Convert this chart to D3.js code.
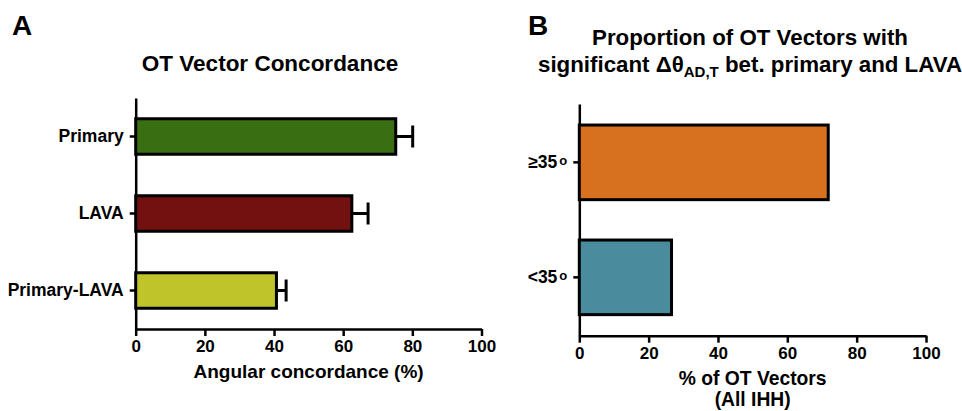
<!DOCTYPE html>
<html>
<head>
<meta charset="utf-8">
<script src="https://cdn.jsdelivr.net/npm/d3@7"></script>
<style>
  body { margin: 0; background: #fff; }
  svg { display: block; font-family: "Liberation Sans", Arial, sans-serif; font-weight: bold; }
  .axis path, .axis line { stroke: #000; stroke-width: 2.5; }
  .axis text { font-size: 17px; font-weight: bold; fill: #000; font-family: "Liberation Sans", Arial, sans-serif; }
  .ylab text { font-size: 17.5px; }
</style>
</head>
<body>
<svg id="chart" width="962" height="411"></svg>
<script>
'use strict';

// panel A: OT vector concordance
let concCats = ['Primary', 'LAVA', 'Primary-LAVA'];
let concValues = [75.2, 62.5, 40.7];
let concErrors = [4.9, 4.7, 2.8];
let concColors = ['#3a6e12', '#731111', '#bec42a'];

// panel B: proportion of OT vectors
let propCats = ['≥35', '<35'];
let propValues = [71.8, 26.6];
let propColors = ['#d8711f', '#4a8c9e'];

let xTicks = [0, 20, 40, 60, 80, 100];

let svg = d3.select('#chart');

let drawPanel = (opts) => {
  let g = svg.append('g');
  let x = d3.scaleLinear().domain([0, 100]).range([opts.x0, opts.x1]);
  let y = d3.scaleBand()
    .domain(opts.cats)
    .range([opts.y0, opts.y1])
    .paddingInner(opts.padIn)
    .paddingOuter(opts.padOut);

  g.append('g')
    .attr('class', 'axis')
    .attr('transform', `translate(0,${opts.y1})`)
    .call(d3.axisBottom(x).tickValues(xTicks).tickFormat(d3.format('d'))
      .tickSize(7).tickSizeOuter(0).tickPadding(4));

  let yAxis = g.append('g')
    .attr('class', 'axis ylab')
    .attr('transform', `translate(${opts.x0},0)`)
    .call(d3.axisLeft(y).tickSize(6).tickSizeOuter(0).tickPadding(6)
      .tickFormat(opts.labelFormat ? () => '' : d => d));
  if (opts.labelFormat) {
    yAxis.selectAll('.tick text').each(function(d) {
      let t = d3.select(this);
      t.append('tspan').text(d);
      t.append('tspan').attr('font-size', 13).attr('dy', -3).attr('dx', 2).text('o');
    });
  }

  g.selectAll('rect.bar')
    .data(opts.values)
    .join('rect')
    .attr('class', 'bar')
    .attr('x', x(0))
    .attr('y', (d, i) => y(opts.cats[i]) + 1.5)
    .attr('width', d => x(d) - x(0))
    .attr('height', y.bandwidth() - 3)
    .style('fill', (d, i) => opts.colors[i])
    .style('stroke', '#000')
    .style('stroke-width', 3);

  if (opts.errors) {
    let eg = g.selectAll('g.err')
      .data(opts.values)
      .join('g')
      .attr('class', 'err')
      .style('stroke', '#000')
      .style('stroke-width', 3);
    eg.append('line')
      .attr('x1', d => x(d))
      .attr('x2', (d, i) => x(d + opts.errors[i]))
      .attr('y1', (d, i) => y(opts.cats[i]) + y.bandwidth() / 2)
      .attr('y2', (d, i) => y(opts.cats[i]) + y.bandwidth() / 2);
    eg.append('line')
      .attr('x1', (d, i) => x(d + opts.errors[i]))
      .attr('x2', (d, i) => x(d + opts.errors[i]))
      .attr('y1', (d, i) => y(opts.cats[i]) + y.bandwidth() / 2 - 11)
      .attr('y2', (d, i) => y(opts.cats[i]) + y.bandwidth() / 2 + 11);
  }
  return { g: g, x: x, y: y };
};

let pa = drawPanel({
  cats: concCats, values: concValues, errors: concErrors, colors: concColors,
  x0: 135.7, x1: 481.5, y0: 98, y1: 329, padIn: 0.5, padOut: 0.25,
});

let pb = drawPanel({
  cats: propCats, values: propValues, colors: propColors,
  x0: 579.3, x1: 926, y0: 104, y1: 335.7, padIn: 0.325, padOut: 0.17,
  labelFormat: true,
});

// panel letters
svg.append('text').attr('x', 12).attr('y', 35).style('font-size', '28px').text('A');
svg.append('text').attr('x', 528).attr('y', 35).style('font-size', '28px').text('B');

// titles
svg.append('text')
  .attr('x', 270).attr('y', 71)
  .style('text-anchor', 'middle')
  .style('font-size', '22.5px')
  .text('OT Vector Concordance');

svg.append('text')
  .attr('x', 750).attr('y', 45)
  .style('text-anchor', 'middle')
  .style('font-size', '22.3px')
  .text('Proportion of OT Vectors with');
let t2 = svg.append('text')
  .attr('x', 750).attr('y', 72)
  .style('text-anchor', 'middle')
  .style('font-size', '22.3px');
t2.append('tspan').text('significant Δθ');
t2.append('tspan').attr('dy', 5).style('font-size', '15px').text('AD,T');
t2.append('tspan').attr('dy', -5).text(' bet. primary and LAVA');

// axis titles
svg.append('text')
  .attr('x', (pa.x.range()[0] + pa.x.range()[1]) / 2).attr('y', 378)
  .style('text-anchor', 'middle')
  .style('font-size', '19px')
  .text('Angular concordance (%)');

svg.append('text')
  .attr('x', (pb.x.range()[0] + pb.x.range()[1]) / 2).attr('y', 385)
  .style('text-anchor', 'middle')
  .style('font-size', '19.3px')
  .text('% of OT Vectors');
svg.append('text')
  .attr('x', (pb.x.range()[0] + pb.x.range()[1]) / 2).attr('y', 406)
  .style('text-anchor', 'middle')
  .style('font-size', '19.3px')
  .text('(All IHH)');
</script>
</body>
</html>
